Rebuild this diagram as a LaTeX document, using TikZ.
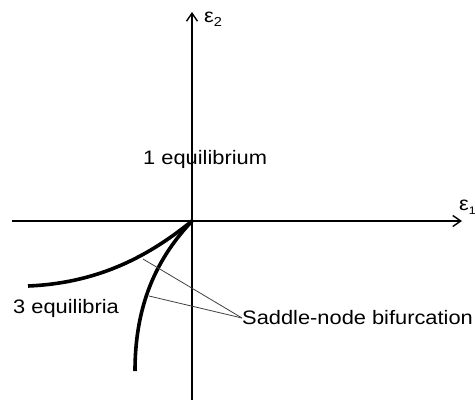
\documentclass[tikz,border=0pt]{standalone}
\usepackage{fontspec}
\setmainfont{Liberation Sans}
\usetikzlibrary{arrows.meta}
\tikzset{
  axis/.style={line width=1.4pt,-{Straight Barb[length=8pt,width=11pt,line width=1.4pt]}},
  branch/.style={line width=3.6pt},
  leader/.style={line width=0.8pt,black!75},
  lbl/.style={inner sep=0pt,anchor=west,font=\fontsize{19.5}{22}\selectfont},
}
\newcommand{\wide}[1]{\scalebox{1.12}[1]{#1}}
\begin{document}
\begin{tikzpicture}[x=1pt,y=-1pt]
\useasboundingbox (0,0) rectangle (476,399);
\clip (0,0) rectangle (476,399);
\coordinate (O) at (192,221);
\coordinate (xs) at (12,221);
\coordinate (xe) at (462,221);
\coordinate (ys) at (192,402);
\coordinate (ye) at (192,12);
\draw[axis] (xs) -- (xe);
\draw[axis] (ys) -- (ye);
\node[lbl] (e2) at (204,19) {\wide{ε\raisebox{-0.4ex}{\fontsize{13}{15}\selectfont 2}}};
\node[lbl] (e1) at (459,207) {\wide{ε\raisebox{-0.4ex}{\fontsize{11}{13}\selectfont 1}}};
\coordinate (u0) at (28,286);
\coordinate (l0) at (135,371);
\draw[branch] (u0) .. controls (100,283) and (150,255) .. (O);
\draw[branch] (l0) .. controls (135,300) and (160,255) .. (O);
\node[lbl] (one) at (143,159) {\wide{1 equilibrium}};
\node[lbl] (three) at (13,308) {\wide{3 equilibria}};
\node[lbl] (sn) at (242,318) {\wide{Saddle-node bifurcation}};
\coordinate (ua) at (143,259);
\coordinate (la) at (149,296);
\draw[leader] (sn.west) -- (ua);
\draw[leader] (sn.west) -- (la);
\end{tikzpicture}
\end{document}
